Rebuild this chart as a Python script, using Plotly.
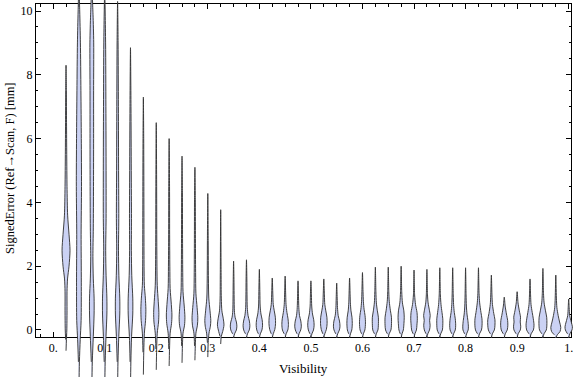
import plotly.graph_objects as go

# ---------------- data ----------------
positions = [0.025, 0.05, 0.075, 0.1, 0.125, 0.15, 0.175, 0.2, 0.225, 0.25,
             0.275, 0.3, 0.325, 0.35, 0.375, 0.4, 0.425, 0.45, 0.475, 0.5,
             0.525, 0.55, 0.575, 0.6, 0.625, 0.65, 0.675, 0.7, 0.725, 0.75,
             0.775, 0.8, 0.825, 0.85, 0.875, 0.9, 0.925, 0.95, 0.975, 1.0]

# smoothed density profile of SignedError for each visibility bin:
# error levels (mm) and relative density at those levels
error_levels = [
    [-0.65, -0.3, 0.0, 0.6, 1.2, 1.6, 2.0, 2.5, 3.0, 3.6, 4.5, 5.5, 6.5, 7.5, 8.3],
    [-1.9, -1.0, -0.3, 0.3, 1.5, 3.0, 4.5, 6.0, 7.5, 9.0, 10.0, 10.8],
    [-1.9, -1.0, -0.2, 0.5, 1.0, 1.6, 2.3, 3.2, 4.5, 6.0, 7.5, 9.0, 9.9, 10.7],
    [-1.9, -1.0, -0.2, 0.5, 1.0, 1.7, 2.5, 3.5, 5.0, 7.0, 9.0, 10.6],
    [-1.9, -1.0, -0.2, 0.5, 1.0, 1.7, 2.5, 3.5, 5.0, 7.0, 9.0, 10.3],
    [-1.9, -1.0, -0.2, 0.5, 1.0, 1.7, 2.5, 3.5, 5.0, 7.0, 8.85],
    [-1.4, -0.7, -0.1, 0.3, 0.65, 1.0, 1.4, 2.0, 3.0, 4.5, 6.0, 7.3],
    [-1.25, -0.6, -0.1, 0.25, 0.55, 0.9, 1.4, 2.0, 3.0, 4.5, 6.5],
    [-1.13, -0.6, -0.1, 0.2, 0.47, 0.8, 1.3, 2.0, 3.0, 4.5, 6.0],
    [-1.03, -0.5, -0.1, 0.15, 0.4, 0.75, 1.2, 1.8, 3.0, 4.3, 5.45],
    [-0.95, -0.5, -0.1, 0.15, 0.38, 0.7, 1.15, 1.8, 3.0, 4.1, 5.1],
    [-0.85, -0.4, -0.1, 0.12, 0.3, 0.6, 1.0, 1.6, 2.8, 4.28],
    [-0.44, -0.2, -0.05, 0.16, 0.35, 0.6, 1.0, 1.8, 3.77],
    [-0.25, -0.12, 0.0, 0.12, 0.25, 0.4, 0.6, 1.0, 1.5, 2.16],
    [-0.25, -0.12, 0.0, 0.13, 0.28, 0.45, 0.7, 1.1, 1.6, 2.2],
    [-0.25, -0.12, 0.0, 0.15, 0.32, 0.5, 0.75, 1.2, 1.9],
    [-0.25, -0.12, 0.02, 0.2, 0.4, 0.6, 0.8, 1.1, 1.63],
    [-0.25, -0.12, 0.0, 0.17, 0.35, 0.55, 0.8, 1.1, 1.69],
    [-0.25, -0.12, 0.0, 0.12, 0.28, 0.45, 0.7, 1.0, 1.54],
    [-0.25, -0.12, 0.0, 0.15, 0.32, 0.5, 0.75, 1.1, 1.54],
    [-0.25, -0.12, 0.02, 0.2, 0.4, 0.6, 0.8, 1.1, 1.6],
    [-0.25, -0.12, 0.0, 0.12, 0.28, 0.45, 0.7, 1.0, 1.47],
    [-0.25, -0.12, 0.0, 0.2, 0.4, 0.6, 0.85, 1.1, 1.63],
    [-0.25, -0.12, 0.0, 0.22, 0.45, 0.65, 0.9, 1.2, 1.8],
    [-0.25, -0.12, 0.0, 0.15, 0.4, 0.6, 0.85, 1.2, 1.97],
    [-0.25, -0.12, 0.0, 0.15, 0.4, 0.62, 0.9, 1.2, 1.97],
    [-0.25, -0.12, 0.0, 0.2, 0.4, 0.6, 0.85, 1.2, 2.0],
    [-0.25, -0.12, 0.0, 0.15, 0.35, 0.55, 0.8, 1.1, 1.88],
    [-0.25, -0.12, 0.0, 0.15, 0.3, 0.45, 0.6, 0.85, 1.1, 1.9],
    [-0.25, -0.12, 0.0, 0.15, 0.35, 0.55, 0.8, 1.1, 1.95],
    [-0.25, -0.12, 0.0, 0.15, 0.35, 0.55, 0.8, 1.1, 1.95],
    [-0.25, -0.12, 0.0, 0.12, 0.3, 0.5, 0.75, 1.1, 1.95],
    [-0.25, -0.12, 0.0, 0.15, 0.35, 0.55, 0.85, 1.15, 1.95],
    [-0.25, -0.12, 0.0, 0.15, 0.32, 0.52, 0.8, 1.1, 1.72],
    [-0.25, -0.12, 0.0, 0.15, 0.3, 0.5, 0.75, 1.03],
    [-0.25, -0.12, 0.0, 0.12, 0.25, 0.4, 0.6, 0.85, 1.2],
    [-0.25, -0.12, 0.0, 0.15, 0.35, 0.55, 0.8, 1.1, 1.6],
    [-0.25, -0.12, 0.0, 0.2, 0.4, 0.6, 0.85, 1.15, 1.93],
    [-0.25, -0.15, -0.05, 0.08, 0.25, 0.45, 0.7, 1.0, 1.72],
    [-0.25, -0.12, 0.0, 0.1, 0.25, 0.45, 0.7, 0.97],
]

densities = [
    [0, 0.4, 0.8, 1.0, 1.0, 1.5, 3.0, 4.0, 3.0, 1.6, 1.0, 0.7, 0.5, 0.35, 0],
    [0, 0.5, 1.3, 2.2, 2.4, 2.2, 2.6, 2.4, 2.0, 1.5, 0.8, 0],
    [0, 0.5, 1.5, 2.3, 2.3, 1.5, 1.1, 1.5, 1.7, 1.8, 1.8, 1.9, 1.2, 0],
    [0, 0.5, 1.3, 2.2, 2.2, 1.4, 1.0, 1.4, 1.4, 1.2, 0.9, 0],
    [0, 0.4, 1.2, 2.2, 2.2, 1.3, 0.9, 1.2, 1.0, 0.8, 0.5, 0],
    [0, 0.4, 1.1, 2.3, 2.3, 1.3, 0.9, 1.0, 0.8, 0.5, 0],
    [0, 0.4, 1.0, 2.2, 2.5, 2.0, 1.0, 0.7, 0.6, 0.5, 0.35, 0],
    [0, 0.4, 1.0, 2.3, 2.6, 2.0, 1.0, 0.7, 0.5, 0.4, 0],
    [0, 0.4, 1.0, 2.4, 2.8, 2.2, 1.0, 0.7, 0.5, 0.4, 0],
    [0, 0.4, 1.0, 2.5, 2.9, 2.2, 1.0, 0.7, 0.5, 0.4, 0],
    [0, 0.4, 1.0, 2.5, 2.9, 2.2, 1.0, 0.7, 0.5, 0.4, 0],
    [0, 0.4, 1.2, 2.6, 3.0, 2.2, 1.0, 0.6, 0.4, 0],
    [0, 0.6, 2.0, 3.3, 2.6, 1.2, 0.6, 0.4, 0],
    [0, 1.0, 2.8, 3.3, 2.8, 1.5, 0.8, 0.55, 0.4, 0],
    [0, 1.0, 2.8, 3.4, 2.9, 1.6, 0.8, 0.55, 0.4, 0],
    [0, 1.0, 2.6, 3.2, 2.8, 1.6, 0.8, 0.5, 0],
    [0, 1.0, 2.6, 3.3, 3.1, 2.0, 1.0, 0.6, 0],
    [0, 1.0, 2.7, 3.3, 2.9, 1.8, 0.9, 0.55, 0],
    [0, 1.0, 2.7, 3.3, 2.8, 1.5, 0.8, 0.5, 0],
    [0, 1.0, 2.6, 3.2, 2.8, 1.6, 0.8, 0.5, 0],
    [0, 1.0, 2.6, 3.3, 3.1, 2.0, 1.0, 0.6, 0],
    [0, 1.0, 2.7, 3.3, 2.8, 1.5, 0.8, 0.5, 0],
    [0, 0.9, 2.2, 2.7, 2.4, 1.4, 0.8, 0.55, 0],
    [0, 0.9, 2.4, 3.0, 2.6, 1.6, 0.9, 0.55, 0],
    [0, 0.9, 2.6, 3.0, 3.0, 2.0, 1.0, 0.55, 0],
    [0, 0.9, 2.7, 3.2, 3.2, 2.1, 1.0, 0.55, 0],
    [0, 0.9, 2.2, 2.8, 3.1, 2.7, 1.3, 0.6, 0],
    [0, 0.9, 2.4, 2.9, 3.3, 3.0, 1.5, 0.6, 0],
    [0, 0.9, 2.6, 3.2, 2.7, 3.3, 2.6, 1.2, 0.6, 0],
    [0, 0.9, 2.6, 3.0, 3.0, 2.2, 1.2, 0.6, 0],
    [0, 0.9, 2.6, 3.0, 2.6, 1.6, 0.9, 0.55, 0],
    [0, 1.0, 2.6, 2.8, 2.3, 1.4, 0.8, 0.5, 0],
    [0, 1.0, 3.0, 3.6, 3.5, 2.5, 1.2, 0.6, 0],
    [0, 1.0, 3.0, 3.6, 3.6, 2.4, 1.1, 0.6, 0],
    [0, 1.0, 3.0, 3.6, 3.4, 2.2, 0.9, 0],
    [0, 1.0, 3.2, 3.6, 3.1, 3.4, 2.2, 0.9, 0],
    [0, 1.1, 3.4, 4.0, 3.3, 2.2, 1.0, 0.55, 0],
    [0, 1.1, 3.4, 4.0, 3.8, 2.6, 1.2, 0.6, 0],
    [0, 1.5, 4.2, 5.0, 3.8, 2.4, 1.1, 0.6, 0],
    [0, 1.2, 3.3, 3.7, 2.6, 1.0, 0.5, 0],
]

x_ticks = [0.0, 0.1, 0.2, 0.3, 0.4, 0.5, 0.6, 0.7, 0.8, 0.9, 1.0]
x_tick_labels = ["0.", "0.1", "0.2", "0.3", "0.4", "0.5", "0.6", "0.7", "0.8", "0.9", "1."]
y_ticks = [0, 2, 4, 6, 8, 10]
y_tick_labels = ["0", "2", "4", "6", "8", "10"]

# ---------------- layout geometry ----------------
W, H = 576, 377
PL, PR, PT, PB = 36, 573, 4, 337          # frame in pixels
XR = [-0.0335, 1.0045]
YR = [-0.22, 10.22]
x_ppu = (PR - PL) / (XR[1] - XR[0])
y_ppu = (PB - PT) / (YR[1] - YR[0])
X2R = [XR[0] - PL / x_ppu, XR[1] + (W - PR) / x_ppu]
Y2R = [YR[0] - (H - PB) / y_ppu, YR[1] + PT / y_ppu]
DENS_SCALE = 1.0 / x_ppu

FILL = "rgb(203,210,244)"
EDGE = "rgba(50,50,50,0.92)"
FONT = "Liberation Serif"

fig = go.Figure()
for pos, ys, ds in zip(positions, error_levels, densities):
    right_x = [pos + d * DENS_SCALE for d in ds]
    left_x = [pos - d * DENS_SCALE for d in ds[-2:0:-1]]
    xs = right_x + left_x
    yy = list(ys) + list(ys[-2:0:-1])
    fig.add_trace(go.Scatter(
        x=xs, y=yy, xaxis="x2", yaxis="y2", mode="lines",
        fill="toself", fillcolor=FILL,
        line=dict(color=EDGE, width=1, shape="spline", smoothing=0.8),
        hoverinfo="skip", showlegend=False))

# dummy trace so main axes exist
fig.add_trace(go.Scatter(x=[None], y=[None], showlegend=False))

axis_common = dict(showgrid=False, zeroline=False, showline=True, linecolor="black",
                   linewidth=1, mirror="allticks", ticks="inside", tickcolor="black",
                   tickfont=dict(family=FONT, size=12, color="black"))

fig.update_layout(
    width=W, height=H,
    margin=dict(l=0, r=0, t=0, b=0),
    paper_bgcolor="white", plot_bgcolor="rgba(0,0,0,0)",
    xaxis=dict(domain=[PL / W, PR / W], range=XR, anchor="y",
               tickmode="array", tickvals=x_ticks, ticktext=x_tick_labels,
               ticklen=5, tickwidth=1,
               minor=dict(tickmode="linear", tick0=0, dtick=0.025, ticks="inside",
                          ticklen=3, tickcolor="black"),
               **axis_common),
    yaxis=dict(domain=[(H - PB) / H, (H - PT) / H], range=YR, anchor="x",
               tickmode="array", tickvals=y_ticks, ticktext=y_tick_labels,
               ticklen=5, tickwidth=1,
               minor=dict(tickmode="linear", tick0=0, dtick=0.5, ticks="inside",
                          ticklen=2.5, tickcolor="black"),
               **axis_common),
    xaxis2=dict(domain=[0, 1], range=X2R, anchor="y2", visible=False),
    yaxis2=dict(domain=[0, 1], range=Y2R, anchor="x2", visible=False),
    annotations=[
        dict(text="Visibility", x=305 / W, y=(H - 368) / H, xref="paper", yref="paper",
             showarrow=False, font=dict(family=FONT, size=13, color="black"),
             xanchor="center", yanchor="middle"),
        dict(text="SignedError (Ref\u2192Scan, F) [mm]", x=10 / W, y=(H - 168) / H,
             xref="paper", yref="paper", showarrow=False, textangle=-90,
             font=dict(family=FONT, size=12.5, color="black"),
             xanchor="center", yanchor="middle"),
    ],
)

fig.write_html("out.html",
               config={"displayModeBar": False, "staticPlot": True},
               post_script="document.body.style.margin='0';document.body.style.padding='0';")
